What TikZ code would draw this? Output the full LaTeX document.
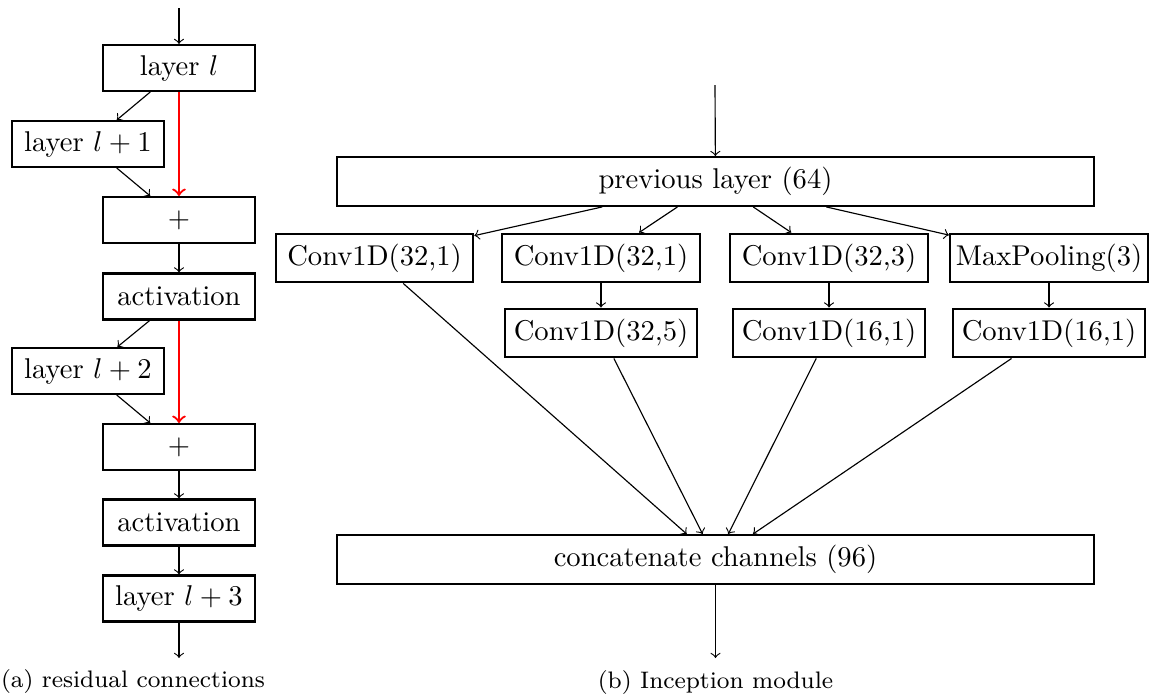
\documentclass[tikz,border=0pt]{standalone}
\begin{document}
\begin{tikzpicture}[x=0.3497pt, y=-0.3497pt,
  resbox/.style={draw, thick, minimum width=53pt, minimum height=16pt, inner sep=2pt},
  incbox/.style={draw, thick, minimum height=17pt, inner sep=3pt},
  incwide/.style={incbox, minimum width=69pt},
  incbar/.style={incbox, minimum width=264.5pt},
  flow/.style={->},
  skip/.style={->, red, thick},
  caption/.style={font=\fontsize{8.35}{10}\selectfont, inner sep=0pt}]
\useasboundingbox (0,0) rectangle (1165,698);

% (a) residual connections
\coordinate (rin) at (179,8);
\node[resbox] (l0) at (179,68) {layer $l$};
\node[resbox] (l1) at (88,144) {layer $l+1$};
\node[resbox] (p1) at (179,220) {$+$};
\node[resbox] (a1) at (179,296.5) {activation};
\node[resbox] (l2) at (88,371) {layer $l+2$};
\node[resbox] (p2) at (179,447) {$+$};
\node[resbox] (a2) at (179,522.5) {activation};
\node[resbox] (l3) at (179,598.5) {layer $l+3$};
\coordinate (rout) at (179,658);

\draw[flow] (rin) -- (l0);
\draw[flow] (l0) -- (l1);
\draw[flow] (l1) -- (p1);
\draw[skip] (l0) -- (p1);
\draw[flow] (p1) -- (a1);
\draw[flow] (a1) -- (l2);
\draw[flow] (l2) -- (p2);
\draw[skip] (a1) -- (p2);
\draw[flow] (p2) -- (a2);
\draw[flow] (a2) -- (l3);
\draw[flow] (l3) -- (rout);

\node[caption] (capa) at (133,682) {(a) residual connections};

% (b) Inception module
\coordinate (iin) at (715,85);
\node[incbar] (prev) at (715.5,181.5) {previous layer (64)};
\node[incwide] (c1) at (374.5,258) {Conv1D(32,1)};
\node[incwide] (c2) at (601,258) {Conv1D(32,1)};
\node[incwide] (c3) at (829,258) {Conv1D(32,3)};
\node[incwide, inner xsep=2pt] (c4) at (1049,258) {MaxPooling(3)};
\node[incbox] (c5) at (601,333) {Conv1D(32,5)};
\node[incbox] (c6) at (829,333) {Conv1D(16,1)};
\node[incbox] (c7) at (1049,333) {Conv1D(16,1)};
\node[incbar] (cat) at (715.5,559.5) {concatenate channels (96)};
\coordinate (iout) at (715.5,658);

\draw[flow] (iin) -- (prev);
\foreach \b in {c1,c2,c3,c4} \draw[flow] (prev) -- (\b);
\draw[flow] (c2) -- (c5);
\draw[flow] (c3) -- (c6);
\draw[flow] (c4) -- (c7);
\foreach \b in {c1,c5,c6,c7} \draw[flow] (\b) -- (cat);
\draw[flow] (cat) -- (iout);

\node[caption] (capb) at (715.5,683) {(b) Inception module};
\end{tikzpicture}
\end{document}
